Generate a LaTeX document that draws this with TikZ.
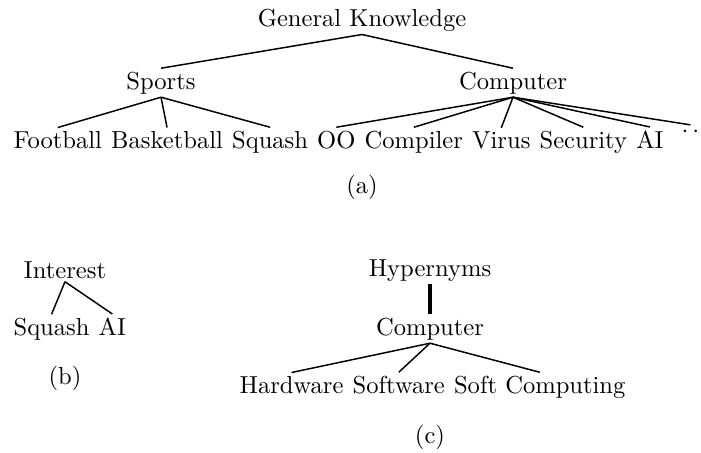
\documentclass[tikz,border=0pt]{standalone}
\usetikzlibrary{positioning}

\begin{document}
\begin{tikzpicture}[x=0.407pt, y=-0.407pt,
        term/.style={inner xsep=1.67pt, inner ysep=1.2pt},
        branch/.style={line width=0.6pt},
        strongbranch/.style={line width=1.5pt}]
        \useasboundingbox (0,0) rectangle (701,452);

        % (a) general knowledge tree
        \node[term, anchor=base] (gk) at (362,26) {General Knowledge};
        \node[term, anchor=base] (sports) at (161,89) {Sports};
        \node[term, anchor=base] (computer) at (513,89) {Computer};

        \node[term, anchor=base west] (football) at (9,148) {Football};
        \node[term, base right=0pt of football] (basketball) {Basketball};
        \node[term, base right=0pt of basketball] (squash) {Squash};
        \node[term, base right=0pt of squash] (oo) {OO};
        \node[term, base right=0pt of oo] (compiler) {Compiler};
        \node[term, base right=0pt of compiler] (virus) {Virus};
        \node[term, base right=0pt of virus] (security) {Security};
        \node[term, base right=0pt of security] (ai) {AI};
        \node[inner sep=0.5pt, anchor=east] (more) at (701,132) {$\cdot\,\cdot$};

        \draw[branch] (gk.south) -- (sports.north);
        \draw[branch] (gk.south) -- (computer.north);
        \foreach \kid in {football, basketball, squash}
            \draw[branch] (sports.south) -- (\kid.north);
        \foreach \kid in {oo, compiler, virus, security, ai, more}
            \draw[branch] (computer.south) -- (\kid.north);

        \node (capa) at (362,187) {(a)};

        % (b) interest
        \node[term, anchor=base] (interest) at (65,278) {Interest};
        \node[term, anchor=base west] (bsquash) at (9,335) {Squash};
        \node[term, base right=0pt of bsquash] (bai) {AI};
        \draw[branch] (interest.south) -- (bsquash.north);
        \draw[branch] (interest.south) -- (bai.north);

        \node (capb) at (65,378) {(b)};

        % (c) hypernyms
        \node[term, anchor=base] (hyper) at (430,276) {Hypernyms};
        \node[term, anchor=base] (comp) at (430,335) {Computer};
        \node[term, anchor=base west] (hardware) at (235,393) {Hardware};
        \node[term, base right=0pt of hardware] (software) {Software};
        \node[term, base right=0pt of software] (softcomp) {Soft Computing};
        \draw[strongbranch] (hyper.south) -- (comp.north);
        \foreach \kid in {hardware, software, softcomp}
            \draw[branch] (comp.south) -- (\kid.north);

        \node (capc) at (430,437) {(c)};
    \end{tikzpicture}
\end{document}
